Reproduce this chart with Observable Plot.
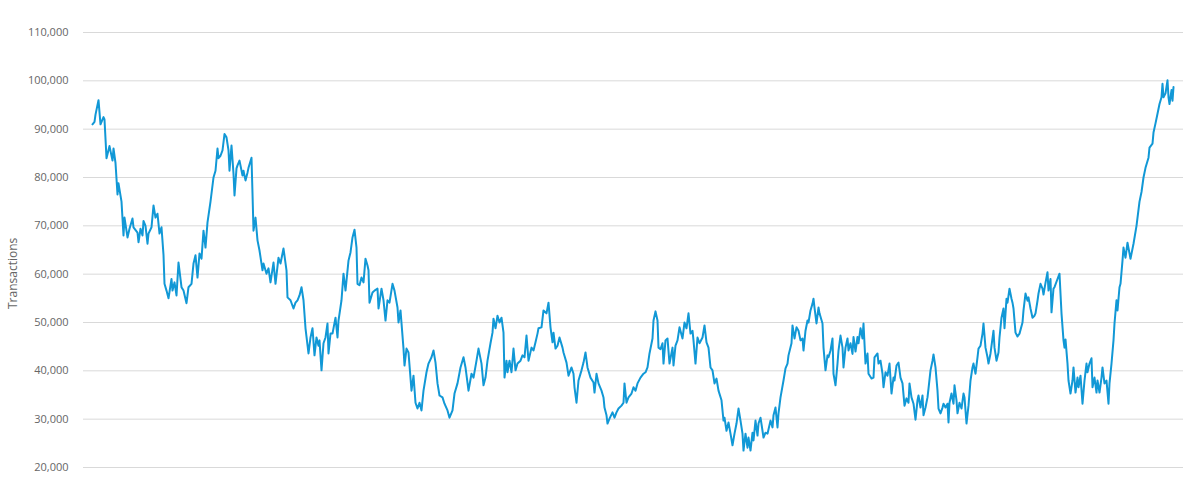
<!DOCTYPE html>
<html>
<head>
<meta charset="utf-8">
<script src="https://cdn.jsdelivr.net/npm/d3@7"></script>
<script src="https://cdn.jsdelivr.net/npm/@observablehq/plot@0.6"></script>
<style>
  html, body { margin: 0; padding: 0; background: #fff; }
  #chart svg { display: block; }
</style>
</head>
<body>
<div id="chart"></div>
<script>
// time index (sample position along the series)
const day = [
  92,94,95,98,100,103,104,106,109,112,
  113,115,117,118,121,123,124,127,129,132,
  133,137,138,140,142,143,145,147,148,151,
  153,155,157,159,161,163,164,166,168,171,
  172,174,176,178,181,183,186,188,191,193,
  195,197,199,201,203,205,207,210,213,215,
  217,218,220,222,224,226,228,229,231,233,
  234,236,237,239,242,243,245,247,248,251,
  252,253,255,257,259,262,263,266,268,270,
  273,275,278,280,283,286,287,290,293,295,
  297,299,301,303,305,308,310,312,314,316,
  318,319,321,323,325,327,328,330,332,335,
  337,338,341,343,345,348,350,352,354,356,
  357,359,361,363,365,367,368,369,372,374,
  377,378,381,383,385,387,389,392,394,397,
  398,400,403,404,406,408,411,413,415,417,
  419,421,423,426,428,431,433,435,437,439,
  442,444,447,449,452,454,457,460,463,465,
  468,471,473,476,478,481,483,485,487,490,
  492,493,495,497,499,501,503,504,506,507,
  509,511,513,515,517,520,522,524,526,528,
  531,533,535,537,538,541,543,546,548,550,
  552,553,555,557,559,562,563,566,568,571,
  573,574,576,578,581,583,585,587,590,593,
  594,596,598,601,603,604,606,607,609,612,
  614,616,618,621,623,624,626,628,631,633,
  635,637,640,643,645,647,649,652,653,655,
  657,658,660,662,663,665,667,669,672,673,
  675,677,679,682,684,686,688,690,692,693,
  695,697,699,702,704,706,708,710,712,714,
  716,718,721,723,724,726,728,730,732,734,
  736,738,740,742,743,745,747,748,750,752,
  753,755,757,758,760,762,763,765,767,770,
  772,773,775,777,778,780,783,785,787,788,
  791,792,794,796,798,800,802,803,805,807,
  808,810,812,813,814,816,818,819,822,823,
  825,827,828,830,832,833,835,837,838,840,
  842,843,845,847,848,850,852,853,855,857,
  858,860,862,863,865,867,868,871,873,874,
  877,878,880,882,883,885,887,889,891,893,
  894,896,898,900,902,904,906,908,909,911,
  913,915,917,918,920,922,923,925,927,928,
  930,932,933,935,937,938,940,942,943,945,
  947,948,949,951,953,954,956,957,959,961,
  963,964,966,968,970,972,973,975,977,978,
  980,982,983,985,987,988,990,993,994,996,
  998,999,1001,1003,1004,1006,1007,1009,1011,1012,
  1013,1015,1017,1019,1022,1023,1025,1027,1028,1030,
  1032,1034,1035,1037,1038,1040,1042,1043,1045,1047,
  1048,1050,1051,1053,1054,1057,1059,1061,1063,1064,
  1065,1067,1068,1070,1072,1073,1075,1077,1078,1080,
  1082,1084,1086,1087,1089,1091,1092,1094,1096,1097,
  1099,1101,1102,1104,1106,1108,1109,1111,1113,1114,
  1116,1117,1119,1120,1122,1123,1125,1127,1130,1133,
  1136,1139,1141,1143,1145,1148,1149,1152,1153,1155,
  1157,1159,1161,1162,1163,1165,1167,1168,1169,1171,
  1172,1173
];

// transactions, in thousands
const txK = [
  91,91.5,93,96,91,92.5,92,84,86.5,83.5,
  86,83,76.5,78.8,75,68,71.7,67.6,69.4,71.5,
  69.7,68.6,66.6,69.4,68,71,70,66.3,68.4,69.7,
  74.2,71.7,72.5,68.4,69.7,64,58,56.6,55,59,
  56.6,58.3,55.6,62.4,57.3,56.6,54,57.3,58,62.2,
  63.9,59.3,64.3,63.2,69,65.5,70.7,75,80,81.4,
  86,84,84.5,85.6,89,88.3,85.6,81.4,86.6,80.8,
  76.3,81.9,82.5,83.5,80.4,81.4,79.4,81,82,84.1,
  76.7,69,71.7,67,64.9,60.8,62.2,60.1,61.2,58.3,
  62.4,58,63.4,62.2,65.3,60.8,55.2,54.6,52.9,54.1,
  54.6,55.6,57.3,54.6,48.8,43.6,46.9,48.8,43.2,46.9,
  45.2,46.3,40.1,45.7,46.9,49.8,43.6,47.7,47.7,51,
  46.9,50.4,54.6,60.1,56.6,62.8,64.5,67.6,69.2,65.5,
  58,57.7,59.3,58.3,63.2,61.8,60.8,54.1,56.2,56.6,
  57,52.9,57,54.6,50.4,54.6,54.1,58,56.6,53.1,
  50,52.5,44.6,41.1,44.6,43.8,35.9,39,33.4,32.2,
  33.4,31.8,35.9,39.7,41.5,42.8,44.2,41.7,37.4,34.9,
  34.5,33.2,31.8,30.3,31.8,35.3,37.4,40.7,42.8,40.7,
  35.9,39.4,38.6,42.1,44.6,41.5,37,38.6,42.1,45.7,
  47.9,50.8,48.8,51.4,50,51,47.9,38.6,42.1,39.7,
  42.1,39.7,44.6,40.1,41.5,42.1,43.2,42.8,47.3,42.1,
  44.8,44.2,45.9,47.7,48.8,49,52.5,51.9,54.1,49,
  45.9,47.9,44.6,45.2,46.9,44.8,43.8,41.7,39,40.7,
  39.4,36.6,33.4,38,40.1,41.7,43.8,40.7,38.6,37.6,
  35.5,39.4,37.4,35.9,34.5,32.4,30.8,29.1,30.1,31.4,
  30.3,31.4,32.2,32.8,33.4,37.4,33.4,34.5,35.3,36.6,
  35.9,37.4,38.6,39.4,39.7,40.7,43.6,46.7,50.4,52.3,
  50.4,44.8,44.5,45.7,41.5,46.3,46.7,41.5,44.8,41.1,
  45.2,46.3,49,46.7,50,48.8,51.9,47.7,48.3,46.3,
  41.5,46.9,45.7,46.9,49.4,45.9,44.8,40.7,40.1,37.4,
  38.4,35.9,33.9,29.7,30.3,27.6,29.3,27,24.6,27,
  29.1,32.2,29.7,27,23.5,27,24.1,26.2,23.5,27.2,
  25.6,29.7,26.6,29.1,30.3,27.6,26.2,27.2,27,29.7,
  28.3,30.8,32.4,28.3,31.2,34.5,38,40.5,41.5,43.2,
  45.7,49.4,46.7,49,48.3,46.3,46.7,44.2,48.3,50.4,
  50,52.5,53.9,54.9,53.1,49.8,53.1,51.9,49.8,44.8,
  40.1,43.2,42.8,44.2,46.7,39.4,37,41.5,44.2,47.3,
  44.8,40.7,44.8,46.7,44.2,45.7,43.5,47,44,47,
  45.7,48.8,46.7,49.8,41.5,43.6,39.4,38.4,38.6,42.8,
  43.6,41.5,42.1,39.4,36.6,39.7,39,41.5,35.3,38.6,
  38,41.1,41.7,38.6,37.4,32.8,34.3,33.4,37.4,34.5,
  33.2,29.9,33.9,34.9,32.4,34.9,30.8,32.4,34.5,36.3,
  40.1,42.1,43.4,40.7,35.9,32.2,31.2,32.4,33.2,32.4,
  33.2,29.3,33.4,35.3,33.2,37,33.9,31.2,33.4,32.2,
  35.3,34.5,29.1,32.8,38,40.7,41.5,39.4,42.8,44.6,
  45.2,47.7,49.8,44.8,42.8,41.5,43.6,48.3,44.8,42.1,
  43.8,46.9,51,52.9,48.8,54.9,54.1,57,54.9,54.1,
  52.9,47.9,47.1,47.7,50,52.5,56,54.5,55.2,52.9,
  51,51.4,51.9,54.5,56,58,57,55.8,58.2,60.4,
  56.6,59,52.1,57,57.3,59,60.1,51.9,46.3,44.8,
  46.5,41.5,38,35.3,38,40.7,35.5,38.6,36.6,39,
  33.2,38,41.5,39.7,41.5,42.6,36.6,38.6,35.5,38,
  35.5,38.6,40.7,37.4,38,33.2,37.4,41.5,46.3,49.8,
  54.6,52.5,57.3,58,62.8,65.5,63.4,66.5,63.2,66.3,
  70,75,77,80,82,84.1,86.2,87,89.3,91.2,
  93.2,95.2,96.6,99.4,96.6,97.4,100.1,96.6,95.2,98.1,
  95.9,98.7
];

const yTicks = [20000, 30000, 40000, 50000, 60000, 70000, 80000, 90000, 100000, 110000];
const yLabel = "Transactions";

const n = Math.min(day.length, txK.length);
const data = d3.range(n).map(i => ({day: day[i], tx: txK[i] * 1000}));

const chart = Plot.plot({
  width: 1200,
  height: 484,
  marginLeft: 83,
  marginRight: 17,
  marginTop: 32,
  marginBottom: 17,
  style: {fontFamily: "'Open Sans', sans-serif", background: "#fff"},
  x: {domain: [day[0], day[n - 1]], insetLeft: 9, insetRight: 10, axis: null},
  y: {domain: [20000, 110000], ticks: yTicks, tickFormat: d3.format(","), label: null},
  marks: [
    Plot.ruleY(yTicks, {stroke: "#d9d9d9", strokeWidth: 1}),
    Plot.axisY(yTicks, {tickSize: 0, tickPadding: 15, fontSize: 11, fill: "#666", label: null}),
    Plot.text([yLabel], {frameAnchor: "left", dx: -70, dy: 59, rotate: -90, fontSize: 12, fill: "#666"}),
    Plot.line(data, {x: "day", y: "tx", stroke: "#1198d6", strokeWidth: 2, strokeLinejoin: "round"})
  ]
});
document.getElementById("chart").append(chart);
</script>
</body>
</html>
